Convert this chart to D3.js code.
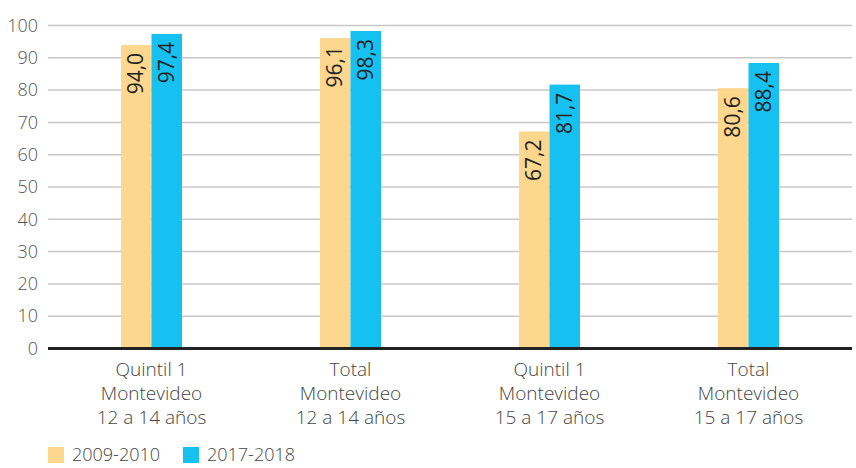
<!DOCTYPE html>
<html><head><meta charset="utf-8">
<script src="https://cdn.jsdelivr.net/npm/d3@7"></script>
<style>body{margin:0;background:#fff}svg{display:block}</style>
</head><body>
<svg id="c" width="856" height="468"></svg>
<script>
const categories = [
  ["Quintil 1","Montevideo","12 a 14 años"],
  ["Total","Montevideo","12 a 14 años"],
  ["Quintil 1","Montevideo","15 a 17 años"],
  ["Total","Montevideo","15 a 17 años"]
];
const seriesNames = ["2009-2010","2017-2018"];
const values2009 = [94.0, 96.1, 67.2, 80.6];
const values2017 = [97.4, 98.3, 81.7, 88.4];
const yTicks = [0,10,20,30,40,50,60,70,80,90,100];
const colors = ["#FDD78E","#16C1F1"];

(function(){
const svg = d3.select("#c");
const font = "'Open Sans', Roboto, sans-serif";
const mLeft = 48, mRight = 852, mTop = 25.5, mBottom = 348.5;
const y = d3.scaleLinear().domain([0,100]).range([mBottom, mTop]);
const x = d3.scalePoint().domain(d3.range(categories.length)).range([mLeft, mRight]).padding(0.52);
const xs = d3.scaleBand().domain([0,1]).range([-30.5, 30.5]);

// gridlines
svg.append("g").selectAll("line").data(yTicks.filter(t=>t>0)).join("line")
  .attr("x1", mLeft).attr("x2", mRight)
  .attr("y1", d=>y(d)).attr("y2", d=>y(d))
  .attr("stroke", "#c8c8c8").attr("stroke-width", 1.5);

// y axis labels
const ya = svg.append("g").attr("transform", `translate(${mLeft},0)`)
  .call(d3.axisLeft(y).tickValues(yTicks).tickSize(0).tickPadding(10));
ya.select(".domain").remove();
ya.selectAll("text").attr("font-family", font).attr("font-size", 18).attr("fill", "#555").attr("font-weight", 300);

const data = categories.map((c,i)=>({i, vals:[values2009[i], values2017[i]]}));
const groups = svg.append("g").selectAll("g").data(data).join("g")
  .attr("transform", d=>`translate(${x(d.i)},0)`);
groups.selectAll("rect").data(d=>d.vals.map((v,k)=>({v,k}))).join("rect")
  .attr("x", d=>xs(d.k)).attr("width", xs.bandwidth())
  .attr("y", d=>y(d.v)).attr("height", d=>y(0)-y(d.v))
  .attr("fill", d=>colors[d.k]);
groups.selectAll("text.v").data(d=>d.vals.map((v,k)=>({v,k}))).join("text")
  .attr("class","v")
  .attr("transform", d=>`translate(${xs(d.k)+xs.bandwidth()/2+7},${y(d.v)+8}) rotate(-90)`)
  .attr("text-anchor","end")
  .attr("font-family", font).attr("font-size", 21).attr("fill", "#222")
  .text(d=>d3.format(".1f")(d.v).replace(".", ","));

// zero axis
svg.append("line").attr("x1", mLeft).attr("x2", mRight)
  .attr("y1", y(0)).attr("y2", y(0)).attr("stroke", "#222").attr("stroke-width", 3);

// category labels
const cl = svg.append("g").selectAll("text").data(data).join("text")
  .attr("x", d=>x(d.i)).attr("y", 376)
  .attr("text-anchor","middle").attr("font-family", font).attr("font-size", 19)
  .attr("fill", "#444").attr("font-weight", 300);
cl.selectAll("tspan").data(d=>categories[d.i]).join("tspan")
  .attr("x", function(){return this.parentNode.getAttribute("x");})
  .attr("dy", (d,j)=>j===0?0:24).text(d=>d);

// legend
const lg = svg.append("g").selectAll("g").data(seriesNames).join("g")
  .attr("transform", (d,i)=>`translate(${mLeft + i*135},447)`);
lg.append("rect").attr("width", 16).attr("height", 16).attr("fill", (d,i)=>colors[i]);
lg.append("text").attr("x", 24).attr("y", 14).attr("font-family", font).attr("font-size", 18)
  .attr("fill", "#444").attr("font-weight", 300).text(d=>d);
})();
</script>
</body></html>
